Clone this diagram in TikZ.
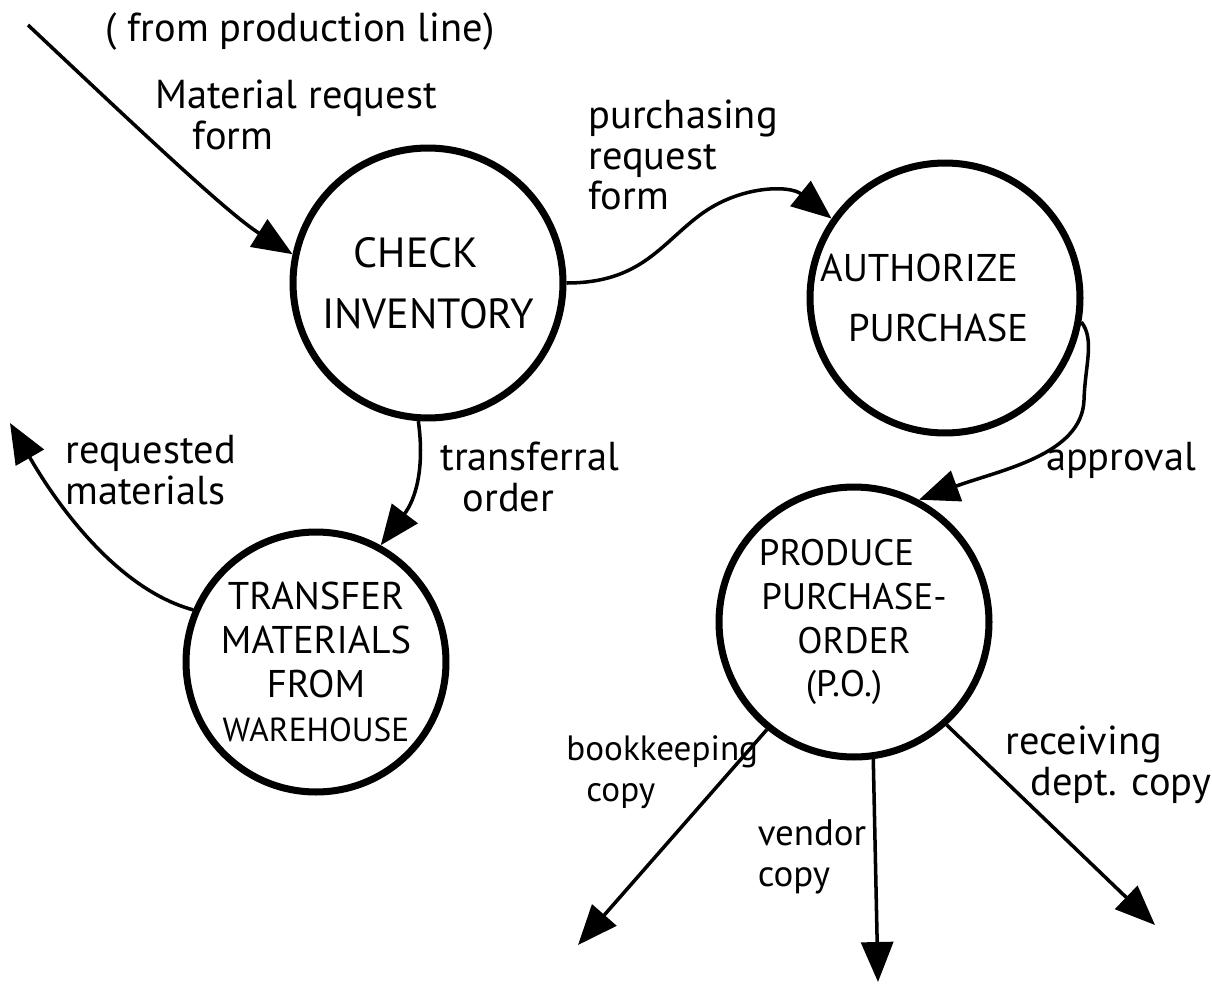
\documentclass[tikz,border=0pt]{standalone}
\usepackage{fontspec}
\setmainfont{PT Sans}
\usetikzlibrary{arrows.meta}
\tikzset{
  prc/.style={circle,draw,line width=4pt,minimum size=5.4cm,inner sep=0pt,align=center,font=\fontsize{22}{34}\selectfont},
  lbl/.style={align=left,font=\fontsize{23}{23}\selectfont,inner sep=0pt},
  arr/.style={-{Triangle[length=0.8cm,width=0.64cm]},line width=2pt},
}
\begin{document}
\begin{tikzpicture}[x=0.02cm,y=-0.02cm]
  \useasboundingbox (0,0) rectangle (1212,987);
  % processes
  \node[prc,font=\fontsize{24}{35}\selectfont] (chk) at (428,283) {CHECK\hspace*{0.48cm}\\INVENTORY};
  \node[prc] (auth) at (945,298) {AUTHORIZE\hspace*{1.04cm}\\PURCHASE\hspace*{0.28cm}};
  \node[prc,minimum size=5.2cm,font=\fontsize{22}{25}\selectfont] (xfr) at (316,662)
    {TRANSFER\\MATERIALS\\FROM\hspace*{0.4cm}\\{\fontsize{19}{22}\selectfont WAREHOUSE}};
  \node[prc,font=\fontsize{21}{25}\selectfont] (prd) at (854,622)
    {PRODUCE\hspace*{0.7cm}\\PURCHASE-\\ORDER\hspace*{0.7cm}\\(P.O.)\hspace*{0.4cm}};
  % free ends
  \coordinate (src) at (28,25);
  \coordinate (out1) at (10,423);
  \coordinate (bk) at (578,945);
  \coordinate (vd) at (878,982);
  \coordinate (rc) at (1155,925);
  % flows
  \draw[arr] (src) .. controls (150,140) and (230,215) .. (chk.168);
  \draw[arr] (chk.east) .. controls (640,283) and (660,245) .. (700,215) .. controls (740,185) and (790,185) .. (auth.145);
  \draw[arr] (auth.-10) .. controls (1095,340) and (1085,365) .. (1084,400) .. controls (1082,455) and (1000,470) .. (prd.62);
  \draw[arr] (chk.-94) .. controls (425,470) and (415,500) .. (xfr.61);
  \draw[arr] (xfr.157) .. controls (120,590) and (60,510) .. (out1);
  \draw[arr] (prd.-129) -- (bk);
  \draw[arr] (prd.-82) -- (vd);
  \draw[arr] (prd.-48) -- (rc);
  % labels
  \node[lbl] (l0) at (300,32) {( from production line)};
  \node[lbl,anchor=west] (l1) at (155,115) {Material request\\\hspace*{0.75cm}form};
  \node[lbl,anchor=west] (l2) at (588,155) {purchasing\\request\\form};
  \node[lbl] (l3) at (1121,460) {approval};
  \node[lbl,anchor=west] (l4) at (440,477) {transferral\\\hspace*{0.45cm}order};
  \node[lbl,anchor=west] (l5) at (65,470) {requested\\materials};
  \node[lbl,anchor=west,font=\fontsize{20}{23}\selectfont] (l6) at (566,772) {bookkeeping\\\hspace*{0.4cm}copy};
  \node[lbl,font=\fontsize{21}{23}\selectfont] (l7) at (812,857) {vendor\\copy};
  \node[lbl,anchor=west] (l8) at (1005,765) {receiving\\\hspace*{0.5cm}dept. copy};
\end{tikzpicture}
\end{document}
